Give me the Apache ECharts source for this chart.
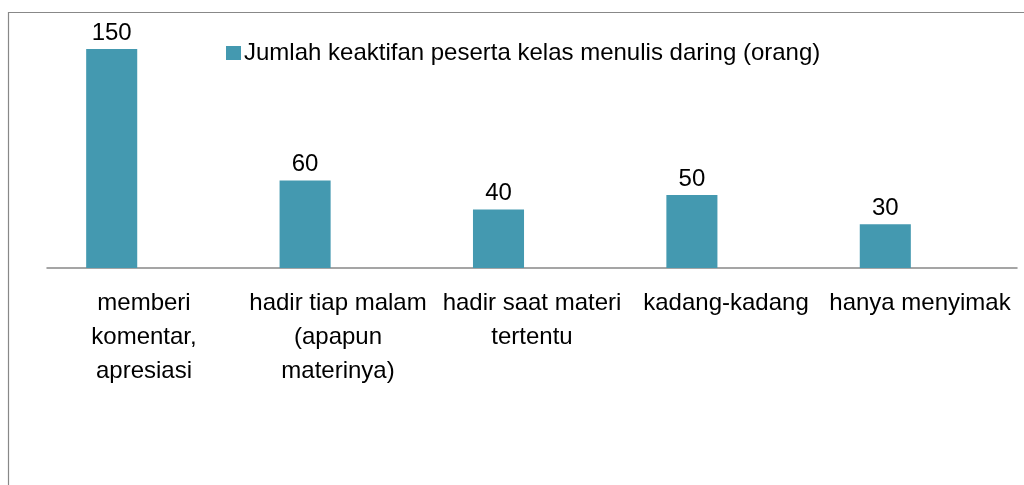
<!DOCTYPE html>
<html>
<head>
<meta charset="utf-8">
<script src="https://cdn.jsdelivr.net/npm/echarts@6/dist/echarts.min.js"></script>
<style>
  html, body { margin: 0; padding: 0; background: #fff; }
  #chart { width: 1024px; height: 485px; }
</style>
</head>
<body>
<div id="chart"></div>
<script>
// data
const categories = [
    'memberi\nkomentar,\napresiasi',
    'hadir tiap malam\n(apapun\nmaterinya)',
    'hadir saat materi\ntertentu',
    'kadang-kadang',
    'hanya menyimak'
]
const values = [150, 60, 40, 50, 30]
const seriesName = 'Jumlah keaktifan peserta kelas menulis daring (orang)'

const font = 'Liberation Sans'
const barColor = '#4499B0'

const chart = echarts.init(document.getElementById('chart'))
chart.setOption({
    animation: false,
    textStyle: { fontFamily: font },
    graphic: [{
        type: 'rect',
        shape: { x: 8.5, y: 12.5, width: 1100, height: 600 },
        style: { fill: 'none', stroke: '#888', lineWidth: 1.2 },
        silent: true
    }],
    legend: {
        data: [seriesName],
        left: 221,
        top: 36,
        itemWidth: 15,
        itemHeight: 14,
        itemGap: 5,
        icon: 'rect',
        textStyle: { fontFamily: font, fontSize: 24, color: '#000', padding: [0, 0, 0, -2] }
    },
    grid: [
        { left: 15, right: 42, top: 49, bottom: 217 },
        { left: 47, right: 7, top: 49, bottom: 217 }
    ],
    xAxis: [{
        type: 'category',
        gridIndex: 0,
        data: categories,
        axisLine: { show: false },
        axisTick: { show: false },
        axisLabel: { show: false }
    }, {
        // the labels sit on the axis line's bands, not under the bars
        type: 'category',
        gridIndex: 1,
        data: categories,
        axisLine: { show: true, lineStyle: { color: '#888', width: 1.5 } },
        axisTick: { show: false },
        axisLabel: {
            interval: 0,
            margin: 18,
            fontFamily: font,
            fontSize: 24,
            lineHeight: 34,
            color: '#000'
        }
    }],
    yAxis: [
        { type: 'value', gridIndex: 0, min: 0, max: 150, show: false },
        { type: 'value', gridIndex: 1, min: 0, max: 150, show: false }
    ],
    series: [{
        name: seriesName,
        type: 'bar',
        xAxisIndex: 0,
        yAxisIndex: 0,
        data: values,
        barWidth: '26.4%',
        itemStyle: { color: barColor },
        label: {
            show: true,
            position: 'top',
            distance: 4,
            fontFamily: font,
            fontSize: 24,
            color: '#000'
        }
    }]
})
</script>
</body>
</html>
